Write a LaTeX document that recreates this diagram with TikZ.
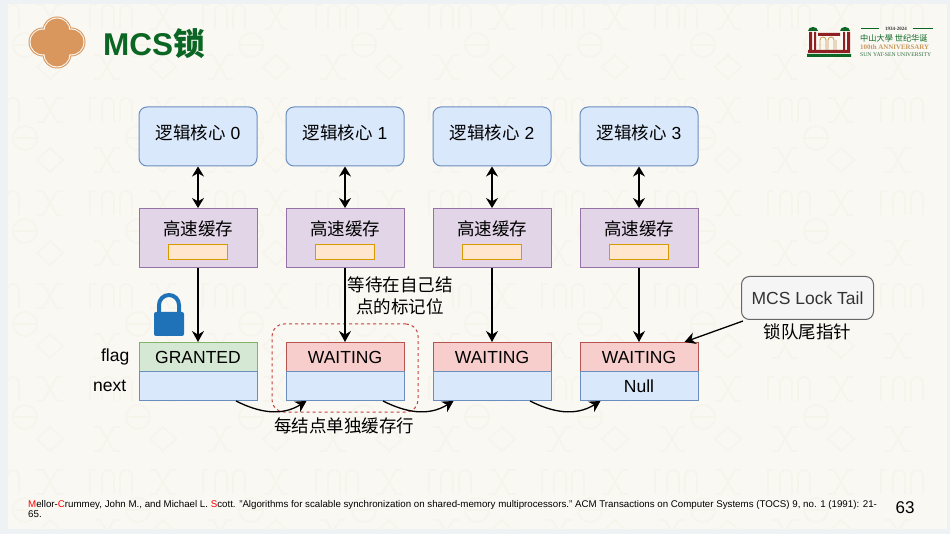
\documentclass[tikz,border=0pt]{standalone}
\usepackage{fontspec}
\usepackage{tikz}
\usetikzlibrary{arrows.meta, positioning, calc}
\setmainfont{Liberation Sans}
\newfontfamily\cjk{Noto Sans CJK SC}
\newfontfamily\serifl{Liberation Serif}
\definecolor{pagebg}{HTML}{FAF8F3}
\definecolor{outerbg}{HTML}{EFF2F5}
\definecolor{markc}{HTML}{F7F4EC}
\definecolor{badgec}{HTML}{D9975E}
\definecolor{titlec}{HTML}{0B6623}
\definecolor{logored}{HTML}{8E1F22}
\definecolor{logogold}{HTML}{C9985A}
\definecolor{lockc}{HTML}{1F72B8}
\definecolor{bluefill}{HTML}{DAE8FC}
\definecolor{blueline}{HTML}{6C8EBF}
\definecolor{purplefill}{HTML}{E1D5E7}
\definecolor{purpleline}{HTML}{9673A6}
\definecolor{orangefill}{HTML}{FFE6CC}
\definecolor{orangeline}{HTML}{D79B00}
\definecolor{greenfill}{HTML}{D5E8D4}
\definecolor{greenline}{HTML}{82B366}
\definecolor{redfill}{HTML}{F8CECC}
\definecolor{redline}{HTML}{B85450}

\begin{document}
\begin{tikzpicture}[
        x=1pt, y=-1pt,
        node distance=28pt,
        box/.style={draw, line width=1pt, minimum width=118pt, inner sep=0pt, font=\fontsize{17.5}{20}\selectfont},
        core/.style={box, rounded corners=8pt, minimum height=59pt, fill=bluefill, draw=blueline, text height=13pt, text depth=6pt},
        cache/.style={box, minimum height=59pt, fill=purplefill, draw=purpleline, text height=13pt, text depth=18pt},
        slot/.style={draw=orangeline, fill=orangefill, line width=1pt, minimum width=59pt, minimum height=15pt, inner sep=0pt},
        flaggreen/.style={box, minimum height=29pt, fill=greenfill, draw=greenline},
        flagred/.style={box, minimum height=29pt, fill=redfill, draw=redline},
        nextbox/.style={box, minimum height=29pt, fill=bluefill, draw=blueline},
        link/.style={line width=1.3pt, -{Stealth[length=11pt, width=12pt]}},
        both/.style={line width=1.3pt, {Stealth[length=10pt, width=12pt]}-{Stealth[length=10pt, width=12pt]}},
        label/.style={font=\fontsize{17.5}{22}\selectfont, inner sep=0pt, align=center}
    ]
        % slide
        \useasboundingbox (0,0) rectangle (950,534);
        \fill[outerbg] (0,0) rectangle (950,534);
        \fill[pagebg] (8,4) rectangle (947,529);

        % watermark
        \begin{scope}
            \clip (8,4) rectangle (947,529);
            \foreach \i in {0,...,8} {
                \foreach \j in {0,...,5} {
                    \begin{scope}[shift={(\i*113-63,\j*93+17)}, draw=markc, line width=1.8pt]
                        % crossed motif, upper and lower row
                        \draw (-13,-12)--(-7,-12)--(7,12)--(13,12) (13,-12)--(7,-12)--(-7,12)--(-13,12);
                        \draw (44,38)--(50,38)--(64,62)--(70,62) (70,38)--(64,38)--(50,62)--(44,62);
                        % "100" motif
                        \draw (40,12)--(40,-12)--(46,-12) (52,12)--(52,-6) arc (180:360:6)--(64,12) (70,12)--(70,-6) arc (180:360:6)--(82,12);
                        % round and diamond motifs
                        \draw (-25,28) circle (12pt) (-36,28)--(-14,28);
                        \draw (0,38)--(13,50)--(0,62)--(-13,50)--cycle;
                    \end{scope}
                }
            }
        \end{scope}

        % title
        \foreach \r/\c in {14.5/badgec, 13.5/pagebg, 12.5/badgec} {
            \fill[\c] (43,42) circle (\r pt) (71,42) circle (\r pt) (57,31) circle (\r pt) (57,54) circle (\r pt);
        }
        \fill[badgec] (44,30) rectangle (70,54);
        \node[anchor=west, inner sep=0pt, text=titlec, font=\fontsize{31.5}{33}\selectfont\bfseries] (title) at (103,44) {MCS{\cjk 锁}};

        % logo
        \fill[logored] (809,32) rectangle (812,50) (814,32) rectangle (816,50) (843,32) rectangle (845,50) (847,32) rectangle (850,50);
        \fill[logored] (818,33) rectangle (840,36) (808,50) rectangle (850,53);
        \fill[titlec] (807,54) rectangle (851,57) (808,31) arc (180:360:5 and 4)--cycle (840,31) arc (180:360:5 and 4)--cycle;
        \draw[logogold, line width=0.8pt] (820,50)--(820,40) arc (180:360:3) --(826,50) (828,50)--(828,40) arc (180:360:3)--(834,50) (836,50)--(836,40);
        \draw[titlec, line width=0.6pt] (861,28.5)--(879,28.5) (913,28.5)--(933,28.5);
        \node[inner sep=0pt, text=black!80, font=\serifl\fontsize{5}{6}\selectfont\bfseries] (logoyear) at (896,28.5) {1934-2024};
        \node[inner sep=0pt, text=titlec, font=\cjk\fontsize{8.2}{9}\selectfont, anchor=west] (logoname) at (860,38) {中山大學\ 世纪华诞};
        \node[inner sep=0pt, text=logogold, font=\serifl\fontsize{6.9}{7}\selectfont\bfseries, anchor=west] (logoage) at (860,47.5) {100th ANNIVERSARY};
        \node[inner sep=0pt, text=titlec!70!gray, font=\serifl\fontsize{5.7}{6}\selectfont, anchor=west] (logouni) at (860,54.5) {SUN YAT-SEN UNIVERSITY};

        % cores
        \node[core] (core0) at (198,136.5) {{\cjk 逻辑核心} 0};
        \node[core, right=of core0] (core1) {{\cjk 逻辑核心} 1};
        \node[core, right=of core1] (core2) {{\cjk 逻辑核心} 2};
        \node[core, right=of core2] (core3) {{\cjk 逻辑核心} 3};

        % caches, flags and next fields
        \foreach \n in {0,1,2,3} {
            \node[cache, below=41.5pt of core\n] (cache\n) {\cjk 高速缓存};
            \node[slot, above=8pt of cache\n.south] (slot\n) {};
        }
        \node[flaggreen, below=74pt of cache0] (flag0) {GRANTED};
        \foreach \n in {1,2,3} {
            \node[flagred, below=74pt of cache\n] (flag\n) {WAITING};
        }
        \foreach \n in {0,1,2} {
            \node[nextbox, below=-1pt of flag\n] (next\n) {};
        }
        \node[nextbox, below=-1pt of flag3] (next3) {Null};

        \node[label, left=9pt of flag0] (flaglabel) {flag};
        \node[label, left=12pt of next0] (nextlabel) {next};

        % lock
        \draw[lockc, line width=4pt] (159,313) -- (159,305) arc (180:360:10) -- (179,313);
        \fill[lockc, rounded corners=2pt] (154,312) rectangle (184,336);

        % dashed region
        \node[draw=redline!80!red, dashed, line width=1pt, rounded corners=12pt, minimum width=146pt, minimum height=88pt, inner sep=0pt] (region) at (345,368) {};

        % tail pointer
        \node[draw=black!60, fill=black!4, line width=1pt, rounded corners=8pt, minimum width=132pt, minimum height=43pt, inner sep=0pt, text=black!80, font=\fontsize{17.5}{20}\selectfont] (tail) at (807.5,298) {MCS Lock Tail};
        \node[label, below=3pt of tail, font=\cjk\fontsize{17.5}{20}\selectfont] (taillabel) {锁队尾指针};
        \coordinate (tailin) at ($(flag3.north east)+(-14,0)$);
        \coordinate (tailout) at ($(tail.south west)+(2,1)$);

        % labels
        \node[label, font=\cjk\fontsize{17.5}{22}\selectfont] (waitlabel) at (400,296) {等待在自己结\\点的标记位};
        \node[label, font=\cjk\fontsize{17.5}{20}\selectfont] (regionlabel) at (344,426) {每结点单独缓存行};

        % connectors
        \foreach \n in {0,1,2,3} {
            \draw[both] (core\n) -- (cache\n);
            \draw[link] (cache\n) -- (flag\n);
        }
        \draw[link] (tailout) -- (tailin);
        \foreach \n/\m in {0/1,1/2,2/3} {
            \coordinate (out\n) at ($(next\n.south)+(38,0)$);
            \coordinate (in\n) at ($(next\m.south west)+(21,0)$);
            \draw[link] (out\n) .. controls +(22,11) and +(-26,16) .. (in\n);
        }

        % reference
        \node[anchor=north west, inner sep=0pt, align=left, font=\fontsize{9.73}{8.5}\selectfont] (refnote) at (28,500.5) {{\color{red}M}ellor-{\color{red}C}rummey, John M., and Michael L. {\color{red}S}cott. "Algorithms for scalable synchronization on shared-memory multiprocessors." ACM Transactions on Computer Systems (TOCS) 9, no. 1 (1991): 21-\\65.};
        \node[inner sep=0pt, font=\fontsize{17}{20}\selectfont] (pageno) at (905,508) {63};
    \end{tikzpicture}
\end{document}
